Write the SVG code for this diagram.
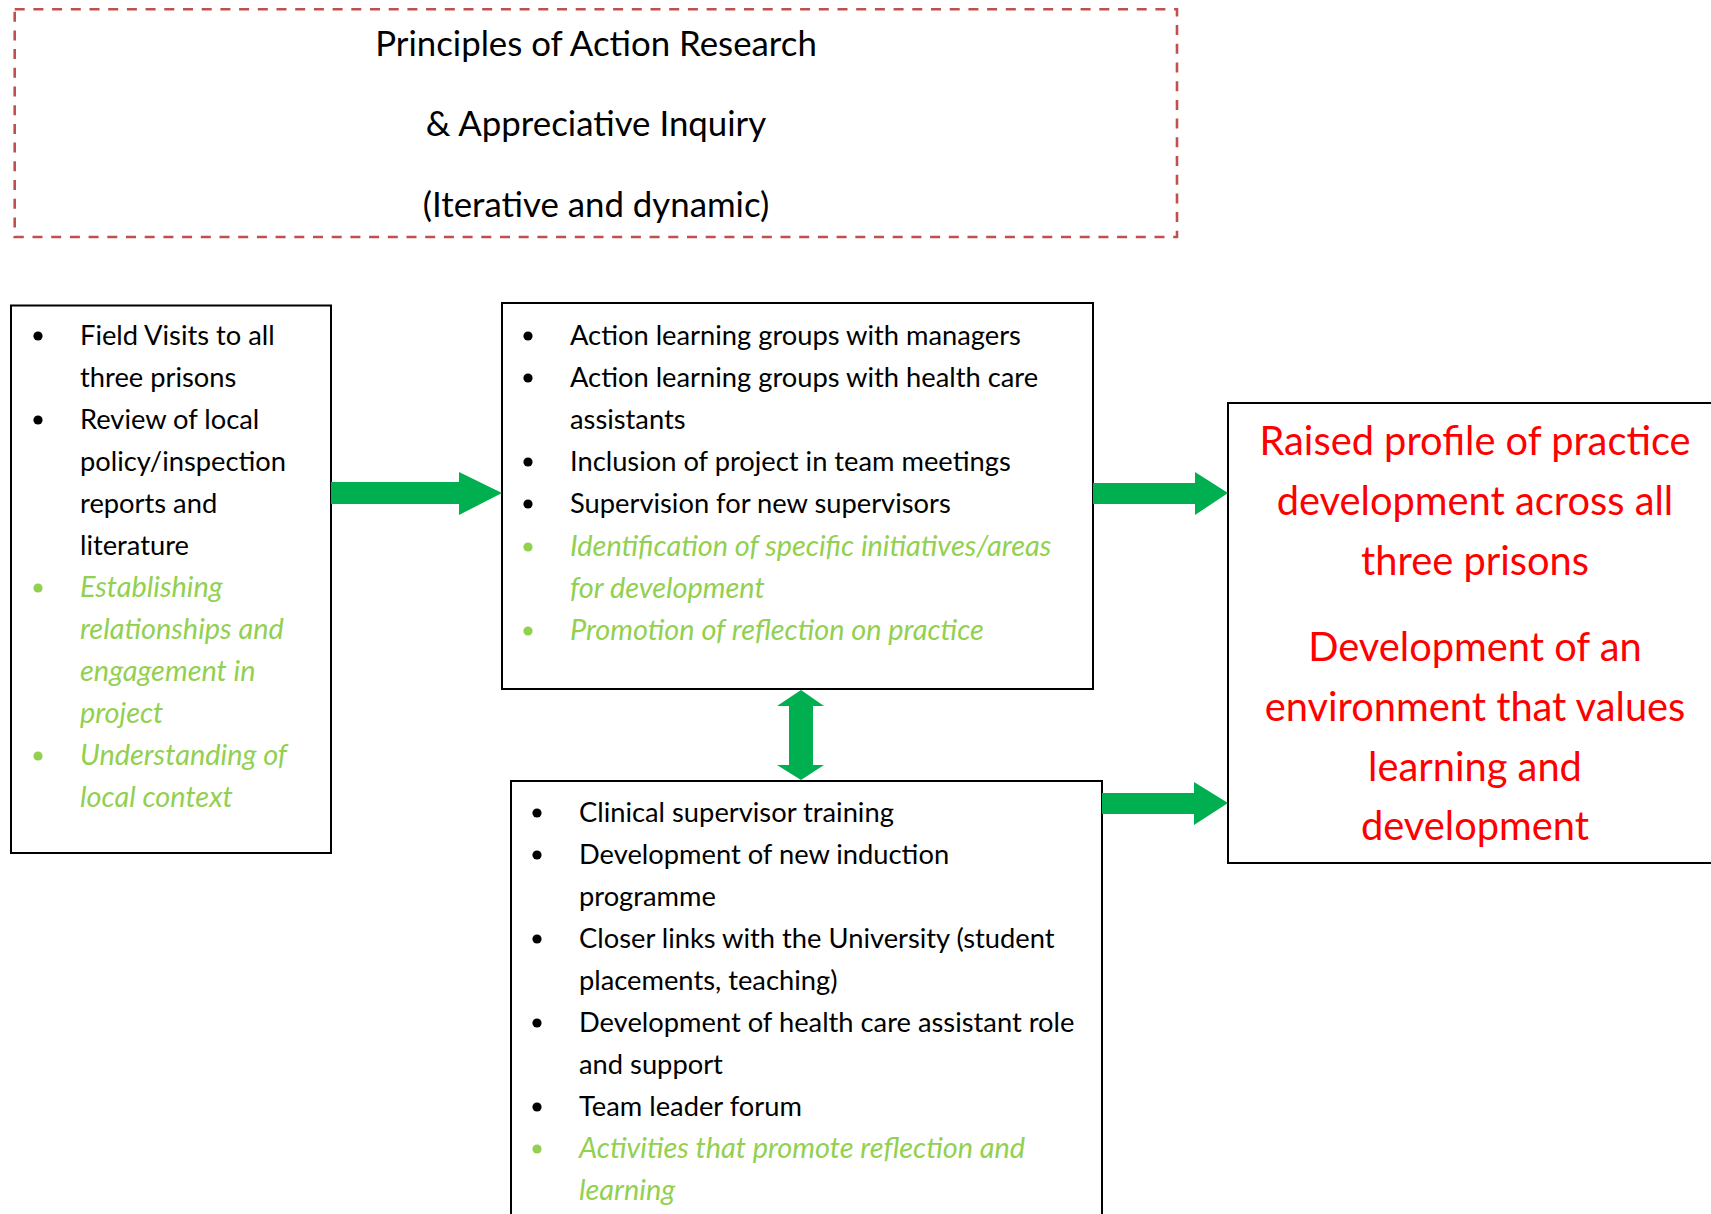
<svg xmlns="http://www.w3.org/2000/svg" width="1711" height="1214" viewBox="0 0 1711 1214">
  <style>
    .box { fill: #ffffff; stroke: #000000; stroke-width: 2; }
    .dash { fill: none; stroke: #C0504D; stroke-width: 2.6; stroke-dasharray: 10 8.7; }
    .txt { font-family: Lato, "Open Sans", sans-serif; font-size: 27.3px; fill: #000000; }
    .note { font-style: italic; font-size: 28.9px; fill: #92D050; }
    .title { font-family: Lato, "Open Sans", sans-serif; font-size: 34.8px; fill: #000000; text-anchor: middle; }
    .red { font-family: Lato, "Open Sans", sans-serif; font-size: 39.8px; fill: #FF0000; text-anchor: middle; }
    .dot { fill: #000000; }
    .gdot { fill: #92D050; }
    .arrow { fill: #00B050; }
  </style>

  <!-- Title frame -->
  <g id="principles">
    <rect class="dash" x="14.7" y="9.3" width="1162.3" height="227.7"/>
    <text class="title" x="596" y="56">Principles of Action Research</text>
    <text class="title" x="596" y="136">&amp; Appreciative Inquiry</text>
    <text class="title" x="596" y="217">(Iterative and dynamic)</text>
  </g>

  <!-- Left column: early activities -->
  <g id="early-activities">
    <rect class="box" x="11" y="305.5" width="320" height="547.5"/>
    <circle class="dot" cx="38" cy="336" r="4.6"/>
    <circle class="dot" cx="38" cy="420" r="4.6"/>
    <circle class="gdot" cx="38" cy="588" r="4.6"/>
    <circle class="gdot" cx="38" cy="756" r="4.6"/>
    <text class="txt" x="80" y="345">Field Visits to all</text>
    <text class="txt" x="80" y="387">three prisons</text>
    <text class="txt" x="80" y="429">Review of local</text>
    <text class="txt" x="80" y="471">policy/inspection</text>
    <text class="txt" x="80" y="513">reports and</text>
    <text class="txt" x="80" y="555">literature</text>
    <text class="txt note" x="80" y="597">Establishing</text>
    <text class="txt note" x="80" y="639">relationships and</text>
    <text class="txt note" x="80" y="681">engagement in</text>
    <text class="txt note" x="80" y="723">project</text>
    <text class="txt note" x="80" y="765">Understanding of</text>
    <text class="txt note" x="80" y="807">local context</text>
  </g>

  <!-- Middle column: action learning -->
  <g id="action-learning">
    <rect class="box" x="502" y="303" width="591" height="386"/>
    <circle class="dot" cx="528" cy="336" r="4.6"/>
    <circle class="dot" cx="528" cy="378" r="4.6"/>
    <circle class="dot" cx="528" cy="462" r="4.6"/>
    <circle class="dot" cx="528" cy="504" r="4.6"/>
    <circle class="gdot" cx="528" cy="547" r="4.6"/>
    <circle class="gdot" cx="528" cy="631" r="4.6"/>
    <text class="txt" x="570" y="345">Action learning groups with managers</text>
    <text class="txt" x="570" y="387">Action learning groups with health care</text>
    <text class="txt" x="570" y="429">assistants</text>
    <text class="txt" x="570" y="471">Inclusion of project in team meetings</text>
    <text class="txt" x="570" y="513">Supervision for new supervisors</text>
    <text class="txt note" x="570" y="556">Identification of specific initiatives/areas</text>
    <text class="txt note" x="570" y="598">for development</text>
    <text class="txt note" x="570" y="640">Promotion of reflection on practice</text>
  </g>

  <!-- Lower middle column: training and links -->
  <g id="training">
    <rect class="box" x="511" y="781" width="591" height="450"/>
    <circle class="dot" cx="537" cy="813" r="4.6"/>
    <circle class="dot" cx="537" cy="855" r="4.6"/>
    <circle class="dot" cx="537" cy="939" r="4.6"/>
    <circle class="dot" cx="537" cy="1023" r="4.6"/>
    <circle class="dot" cx="537" cy="1107" r="4.6"/>
    <circle class="gdot" cx="537" cy="1149" r="4.6"/>
    <text class="txt" x="579" y="822">Clinical supervisor training</text>
    <text class="txt" x="579" y="864">Development of new induction</text>
    <text class="txt" x="579" y="906">programme</text>
    <text class="txt" x="579" y="948">Closer links with the University (student</text>
    <text class="txt" x="579" y="990">placements, teaching)</text>
    <text class="txt" x="579" y="1032">Development of health care assistant role</text>
    <text class="txt" x="579" y="1074">and support</text>
    <text class="txt" x="579" y="1116">Team leader forum</text>
    <text class="txt note" x="579" y="1158">Activities that promote reflection and</text>
    <text class="txt note" x="579" y="1200">learning</text>
  </g>

  <!-- Right column: outcomes -->
  <g id="outcomes">
    <rect class="box" x="1228" y="403" width="500" height="460"/>
    <text class="red" x="1475" y="455">Raised profile of practice</text>
    <text class="red" x="1475" y="515">development across all</text>
    <text class="red" x="1475" y="575">three prisons</text>
    <text class="red" x="1475" y="661">Development of an</text>
    <text class="red" x="1475" y="721">environment that values</text>
    <text class="red" x="1475" y="781">learning and</text>
    <text class="red" x="1475" y="840">development</text>
  </g>

  <!-- Block arrows between columns -->
  <g id="connectors">
    <polygon class="arrow" points="331,482 459,482 459,472 502,493 459,515 459,504 331,504"/>
    <polygon class="arrow" points="1093,483 1195,483 1195,472 1228,493 1195,515 1195,504 1093,504"/>
    <polygon class="arrow" points="1102,793 1194,793 1194,782 1228,803 1194,825 1194,814 1102,814"/>
    <polygon class="arrow" points="801,690 824,706 813,706 813,765 824,765 801,780 777,765 789,765 789,706 777,706"/>
  </g>
</svg>
